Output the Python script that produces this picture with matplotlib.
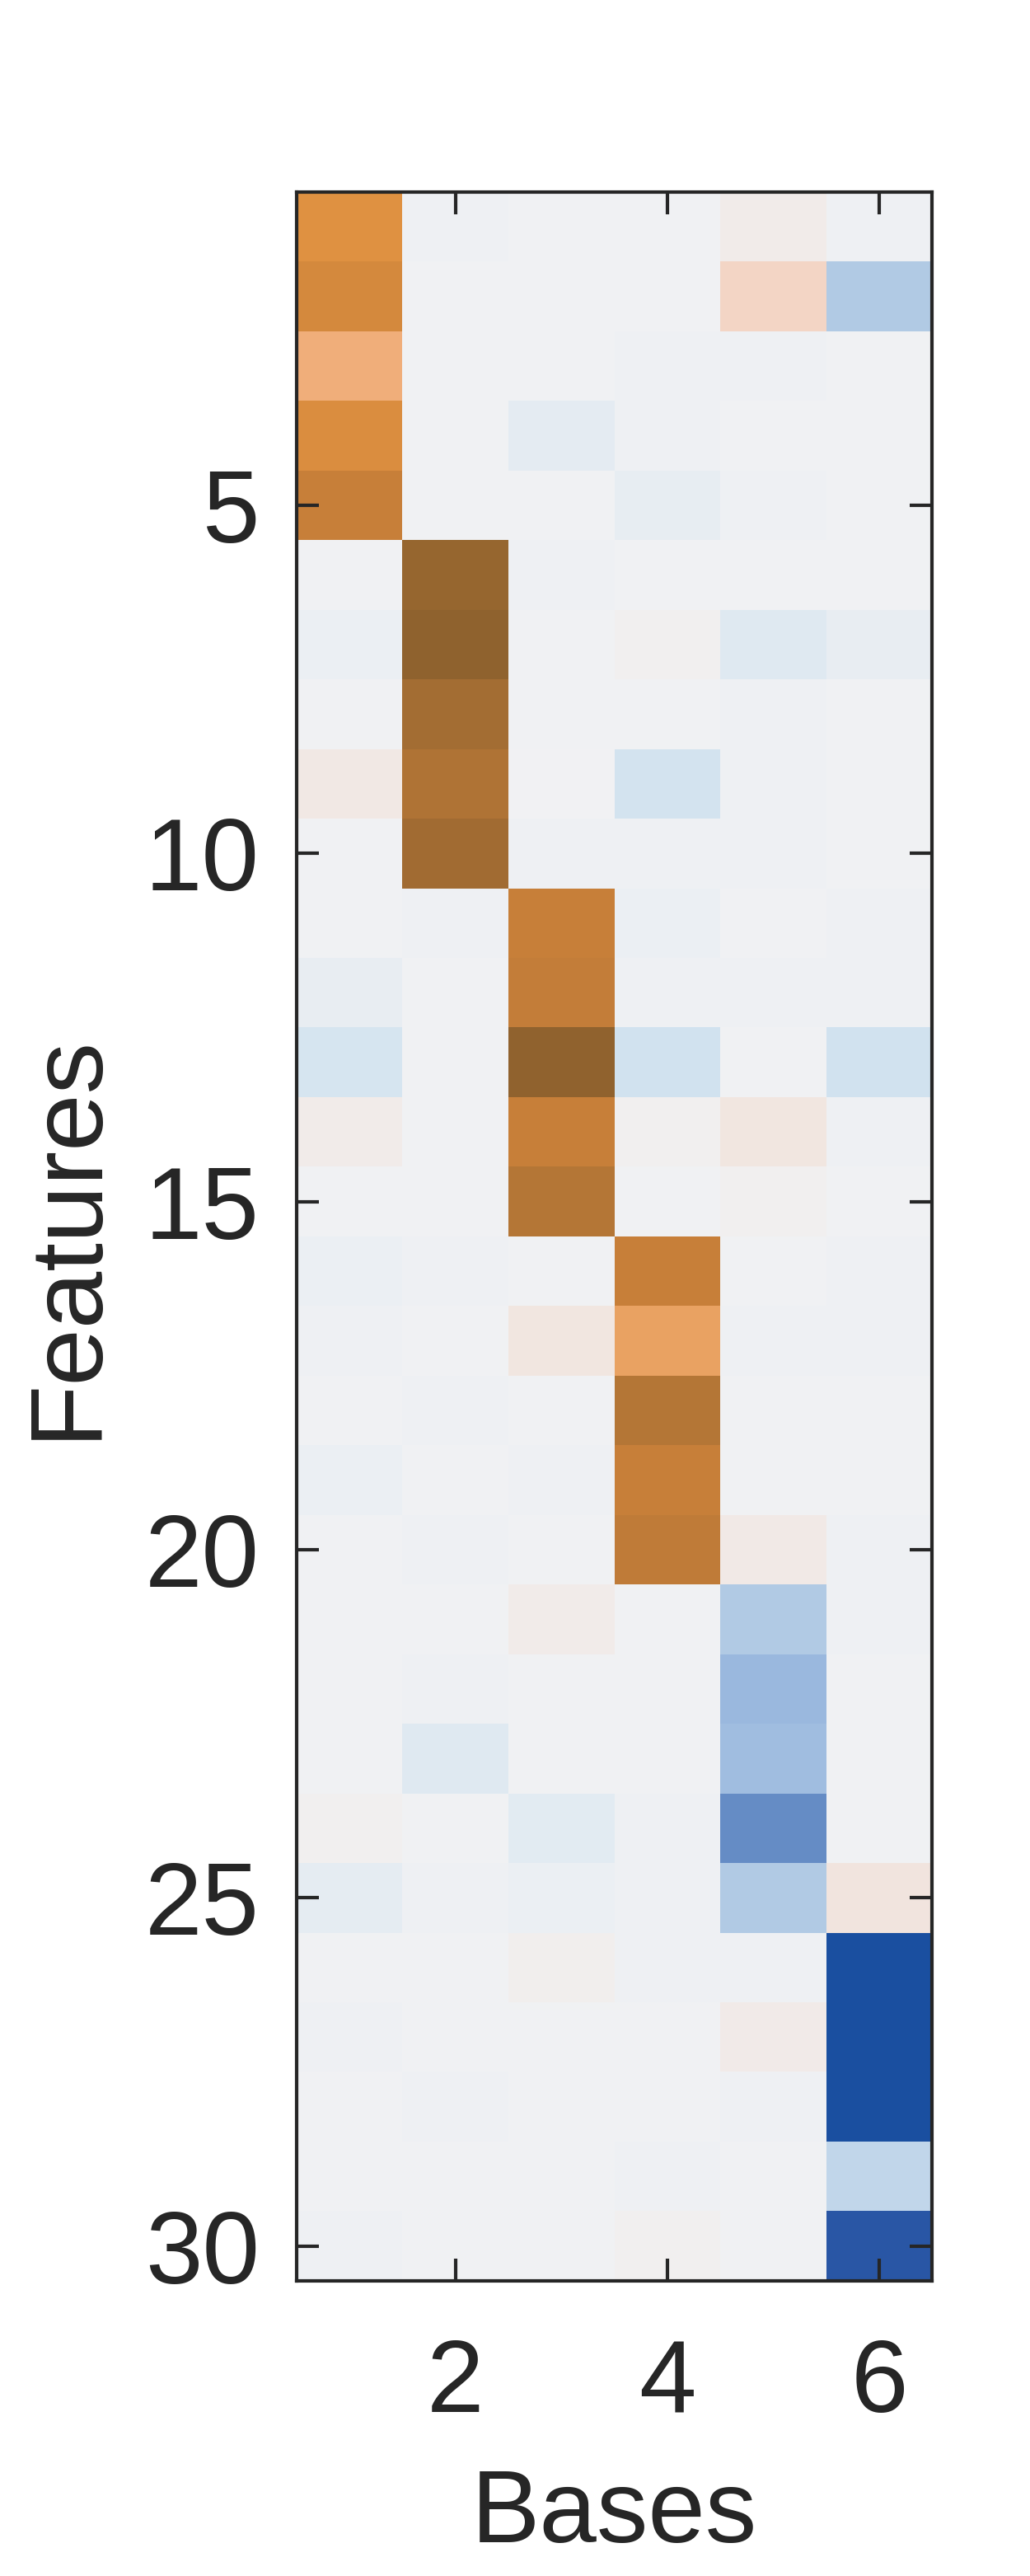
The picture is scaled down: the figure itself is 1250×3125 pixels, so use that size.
import numpy as np
import matplotlib
matplotlib.use('Agg')
import matplotlib.pyplot as plt
from matplotlib.colors import LinearSegmentedColormap

plt.rcParams.update({
    'font.family':       ['Liberation Sans', 'DejaVu Sans'],
    'font.size':         36,
    'text.color':        '#262626',
    'axes.labelcolor':   '#262626',
    'xtick.color':       '#262626',
    'ytick.color':       '#262626',
    'axes.edgecolor':    '#262626',
    'axes.linewidth':    1.2,
    'figure.facecolor':  'white',
})

# loadings per base (rows = features 1..30), negative = orange, positive = blue
base_1 = [-0.50, -0.57, -0.35, -0.53, -0.65, 0.00, 0.03, 0.00, -0.07, 0.00,
          0.00, 0.04, 0.135, -0.04, 0.00, 0.03, 0.015, 0.00, 0.03, 0.00,
          0.00, 0.00, 0.00, -0.02, 0.055, 0.00, 0.015, 0.00, 0.00, 0.015]
base_2 = [0.015, 0.00, 0.00, 0.00, 0.00, -0.95, -1.00, -0.87, -0.80, -0.89,
          0.015, 0.00, 0.00, 0.00, 0.00, 0.015, 0.00, 0.015, 0.00, 0.015,
          0.00, 0.015, 0.09, 0.00, 0.015, 0.00, 0.00, 0.015, 0.00, 0.00]
base_3 = [0.00, 0.00, 0.00, 0.07, 0.00, 0.015, 0.00, 0.00, -0.005, 0.015,
          -0.65, -0.675, -0.99, -0.65, -0.77, 0.00, -0.08, 0.00, 0.015, 0.00,
          -0.04, 0.00, 0.00, 0.075, 0.03, -0.03, 0.00, 0.00, 0.00, 0.00]
base_4 = [0.00, 0.00, 0.015, 0.015, 0.05, 0.00, -0.02, 0.00, 0.15, 0.015,
          0.03, 0.015, 0.16, -0.02, 0.00, -0.65, -0.41, -0.77, -0.65, -0.70,
          0.00, 0.00, 0.00, 0.015, 0.015, 0.015, 0.00, 0.00, 0.015, -0.02]
base_5 = [-0.04, -0.20, 0.015, 0.00, 0.015, 0.00, 0.09, 0.015, 0.015, 0.015,
          0.00, 0.015, 0.00, -0.08, -0.02, 0.00, 0.015, 0.00, 0.00, -0.06,
          0.30, 0.45, 0.41, 0.65, 0.30, 0.015, -0.05, 0.015, 0.00, 0.00]
base_6 = [0.015, 0.30, 0.00, 0.00, 0.00, 0.00, 0.04, 0.00, 0.00, 0.00,
          0.015, 0.015, 0.16, 0.015, 0.00, 0.015, 0.015, 0.00, 0.00, 0.015,
          0.015, 0.00, 0.00, 0.00, -0.09, 1.00, 1.00, 1.00, 0.23, 0.85]

x_ticks = [2, 4, 6]
y_ticks = [5, 10, 15, 20, 25, 30]

# orange/brown <- light grey -> blue
cmap = LinearSegmentedColormap.from_list('obr', [
    (0.000, '#8f622e'),
    (0.100, '#b07436'),
    (0.175, '#c8803a'),
    (0.250, '#df9141'),
    (0.325, '#f0ae7a'),
    (0.400, '#f3d5c5'),
    (0.500, '#f1f2f4'),
    (0.575, '#d4e4f0'),
    (0.650, '#b2cbe5'),
    (0.725, '#9bb9df'),
    (0.825, '#678ec6'),
    (0.925, '#2a57a6'),
    (1.000, '#1a4fa0'),
])

data = np.column_stack([base_1, base_2, base_3, base_4, base_5, base_6])
n_rows, n_cols = data.shape

fig = plt.figure(figsize=(5, 12.5), dpi=250)
ax = fig.add_axes([0.288, 0.1146, 0.617, 0.8108])

ax.imshow(data, cmap=cmap, vmin=-1, vmax=1, aspect='auto',
          interpolation='nearest',
          extent=(0.5, n_cols + 0.5, n_rows + 0.5, 0.5))

ax.set_xticks(x_ticks)
ax.set_yticks(y_ticks)
ax.tick_params(axis='both', direction='in', length=7.8, width=1.2,
               top=True, right=True)
ax.tick_params(axis='x', pad=20)
ax.tick_params(axis='y', pad=13)
ax.set_xlabel('Bases', labelpad=12)
ax.set_ylabel('Features', labelpad=10)

fig.savefig('out.png', dpi=250, facecolor='white')
